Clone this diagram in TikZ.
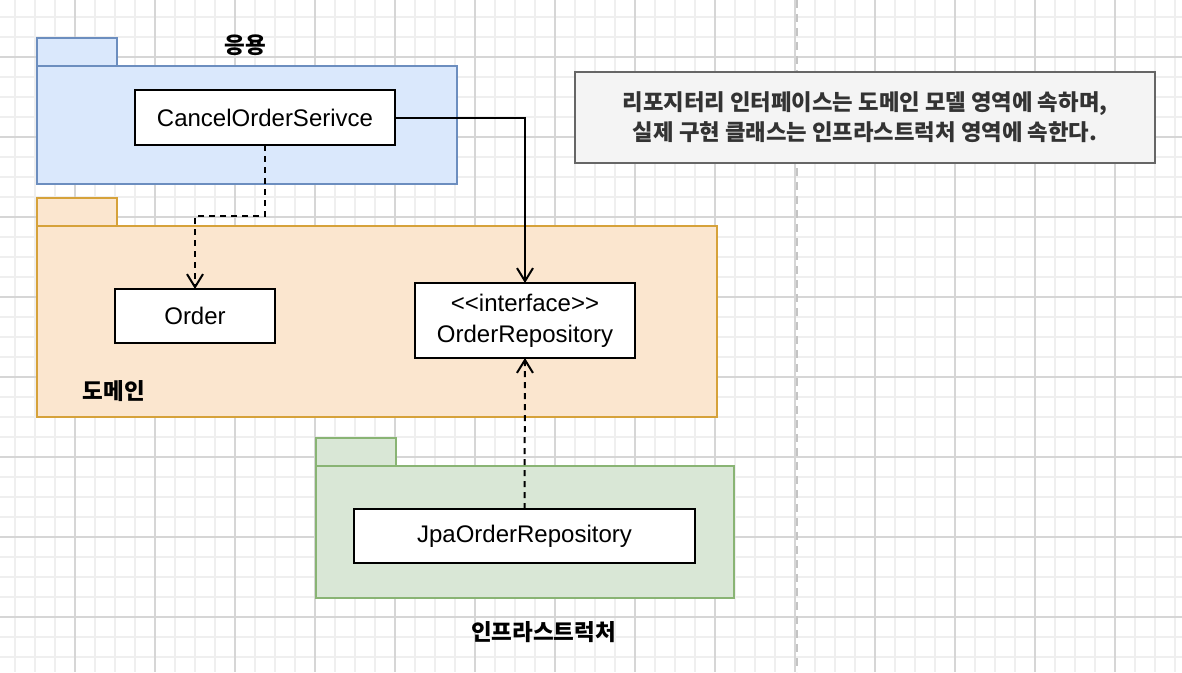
\documentclass[tikz,border=0pt]{standalone}
\usepackage{fontspec}
\setmainfont{Liberation Sans}
\newfontfamily\kr{Noto Sans CJK KR}
\usetikzlibrary{arrows.meta}
\definecolor{gridminor}{HTML}{EFEFEF}
\definecolor{gridmajor}{HTML}{D6D6D6}
\definecolor{appfill}{HTML}{DAE8FC}
\definecolor{appline}{HTML}{6C8EBF}
\definecolor{domfill}{HTML}{FBE6CF}
\definecolor{domline}{HTML}{D6A23A}
\definecolor{inffill}{HTML}{D9E7D6}
\definecolor{infline}{HTML}{89B474}
\definecolor{notefill}{HTML}{F4F4F4}
\definecolor{noteline}{HTML}{666666}
\definecolor{notetext}{HTML}{333333}
\definecolor{pagebreak}{HTML}{C4C4C4}
\tikzset{
  pkg/.style={draw=#1line, fill=#1fill, line width=2pt, rectangle, inner sep=0pt, outer sep=0pt},
  cls/.style={draw=black, fill=white, line width=2pt, rectangle, inner sep=0pt, outer sep=0pt,
    font=\fontsize{24}{28}\selectfont, align=center},
  pkglabel/.style={font=\kr\bfseries\fontsize{22.5}{26}\selectfont, inner sep=0pt},
  dep/.style={line width=2pt, dash pattern=on 6pt off 5pt, -{Straight Barb[length=13pt,width=16pt,line width=2pt]}},
  assoc/.style={line width=2pt, -{Straight Barb[length=13pt,width=16pt,line width=2pt]}},
}
\begin{document}
\begin{tikzpicture}[x=1pt,y=-1pt]
\useasboundingbox (0,0) rectangle (1182,672);
\fill[white] (0,0) rectangle (1182,672);
% grid
\foreach \x in {15,35,...,1175} \draw[gridminor, line width=1.5pt] (\x,0) -- (\x,672);
\foreach \y in {17,37,...,667} \draw[gridminor, line width=1.5pt] (0,\y) -- (1182,\y);
\foreach \x in {75,155,...,1175} \draw[gridmajor, line width=1.5pt] (\x,0) -- (\x,672);
\foreach \y in {57,137,...,667} \draw[gridmajor, line width=1.5pt] (0,\y) -- (1182,\y);
% page break
\draw[pagebreak, line width=2pt, dash pattern=on 8pt off 6pt] (797,0) -- (797,672);

% application package
\node[pkg=app, minimum width=80pt, minimum height=28pt] (apptab) at (77,52) {};
\node[pkg=app, minimum width=420pt, minimum height=118pt] (appbody) at (247,125) {};
\node[pkglabel] (applabel) at (245,45) {응용};

% domain package
\node[pkg=dom, minimum width=80pt, minimum height=28pt] (domtab) at (77,212) {};
\node[pkg=dom, minimum width=680pt, minimum height=191pt] (dombody) at (377,321.5) {};
\node[pkglabel] (domlabel) at (114,391) {도메인};

% infrastructure package
\node[pkg=inf, minimum width=80pt, minimum height=28pt] (inftab) at (356,452) {};
\node[pkg=inf, minimum width=418pt, minimum height=132pt] (infbody) at (525,532) {};
\node[pkglabel] (inflabel) at (543.5,632) {인프라스트럭처};

% classes
\node[cls, minimum width=260pt, minimum height=55pt] (cancel) at (265,117.5) {CancelOrderSerivce};
\node[cls, minimum width=160pt, minimum height=54pt] (order) at (195,316) {Order};
\node[cls, minimum width=220pt, minimum height=75pt] (repo) at (525,320.5) {<\kern0pt<interface>\kern0pt>\\[3pt]OrderRepository};
\node[cls, minimum width=341pt, minimum height=54pt] (jpa) at (524.5,536) {JpaOrderRepository};

% note
\node[draw=noteline, fill=notefill, line width=2pt, minimum width=580pt, minimum height=91pt,
  inner sep=0pt, align=center, text=notetext,
  font=\kr\bfseries\fontsize{22.3}{30}\selectfont] (note) at (865,117.5)
  {리포지터리 인터페이스는 도메인 모델 영역에 속하며,\\실제 구현 클래스는 인프라스트럭처 영역에 속한다.};

% connectors
\draw[assoc] (cancel.east) -| (repo.north);
\draw[dep] (cancel.south) -- ++(0,71) -| (order.north);
\draw[dep] (jpa.north) -- (repo.south);
\end{tikzpicture}
\end{document}
